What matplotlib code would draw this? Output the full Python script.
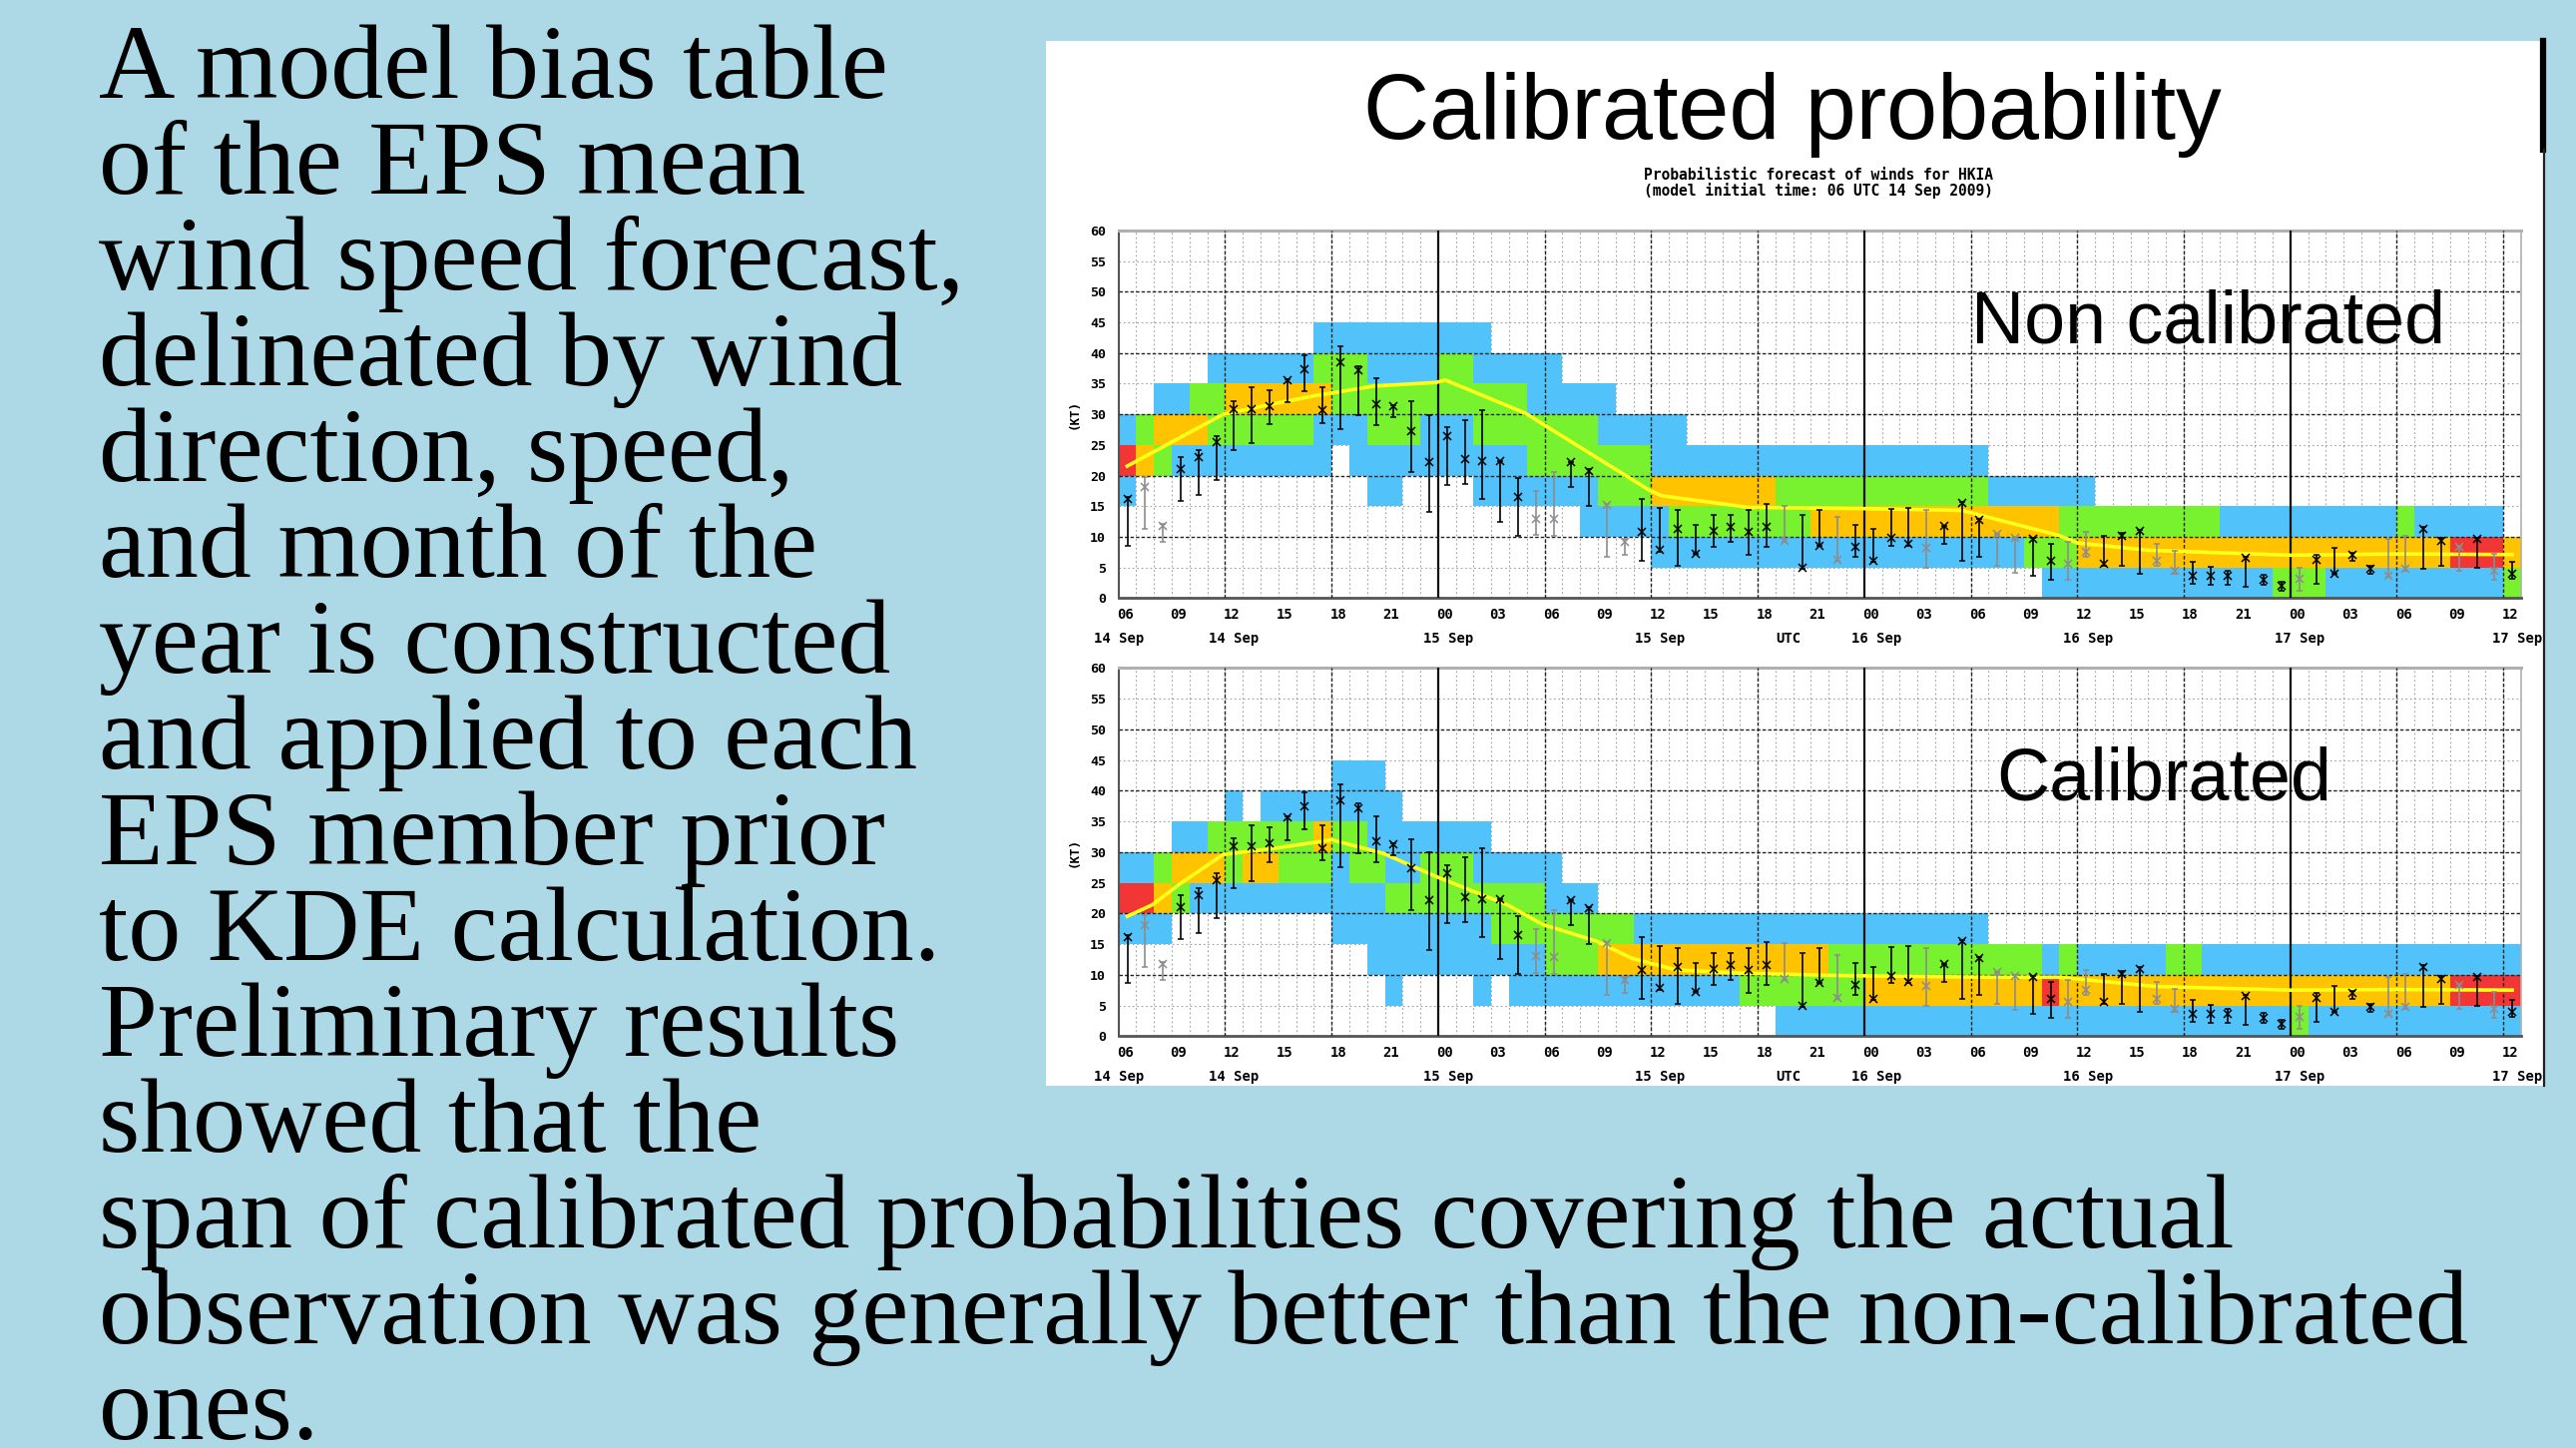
import matplotlib
matplotlib.use("Agg")
import matplotlib.pyplot as plt
import matplotlib.transforms as mtransforms
from matplotlib.colors import ListedColormap
from matplotlib.patches import Rectangle
from matplotlib.lines import Line2D
import numpy as np

W, H, DPI = 2581, 1451, 100
BG = "#ADD9E6"

# ---------------- text content ----------------
BODY_LINES = [
    "A model bias table",
    "of the EPS mean",
    "wind speed forecast,",
    "delineated by wind",
    "direction, speed,",
    "and month of the",
    "year is constructed",
    "and applied to each",
    "EPS member prior",
    "to KDE calculation.",
    "Preliminary results",
    "showed that the",
    "span of calibrated probabilities covering the actual",
    "observation was generally better than the non-calibrated",
    "ones.",
]
TITLE = "Calibrated probability"
SUBTITLE = ["Probabilistic forecast of winds for HKIA",
            "(model initial time: 06 UTC 14 Sep 2009)"]
PANEL_LABELS = ["Non calibrated", "Calibrated"]
Y_LABEL = "(KT)"

# ---------------- axes data ----------------
N_HOURS = 79                       # hourly columns after 06 UTC 14 Sep
HOUR_TICKS = list(range(0, 79, 3))
HOUR_LABELS = ["06", "09", "12", "15", "18", "21", "00", "03", "06", "09",
               "12", "15", "18", "21", "00", "03", "06", "09", "12", "15",
               "18", "21", "00", "03", "06", "09", "12"]
DATE_LABELS = ["14 Sep", "14 Sep", "15 Sep", "15 Sep", "UTC",
               "16 Sep", "16 Sep", "17 Sep", "17 Sep"]
DATE_POS = [0.0, 6.5, 18.6, 30.5, 37.7, 42.7, 54.6, 66.5, 78.8]
KT_TICKS = list(range(0, 61, 5))
DAY_STARTS = [18, 42, 66]                       # 00 UTC
SIX_HOURLY = [6, 12, 24, 30, 36, 48, 54, 60, 72, 78]

# probability cells: per 5-kt bin index -> runs (first hour, last hour, category)
NONCAL_CELLS = {
    0: [(52, 64, 'b'), (65, 67, 'g'), (68, 77, 'b'), (78, 78, 'g')],
    1: [(30, 50, 'b'), (51, 53, 'g'), (54, 74, 'o'), (75, 77, 'r'), (78, 78, 'o')],
    2: [(26, 30, 'b'), (31, 38, 'g'), (39, 52, 'o'), (53, 61, 'g'), (62, 71, 'b'),
        (72, 72, 'g'), (73, 77, 'b')],
    3: [(0, 0, 'b'), (14, 15, 'b'), (20, 26, 'b'), (27, 29, 'g'), (30, 36, 'o'),
        (37, 48, 'g'), (49, 54, 'b')],
    4: [(0, 0, 'r'), (1, 1, 'o'), (2, 2, 'g'), (3, 11, 'b'), (13, 22, 'b'),
        (23, 29, 'g'), (30, 48, 'b')],
    5: [(0, 0, 'b'), (1, 1, 'g'), (2, 4, 'o'), (5, 10, 'g'), (11, 13, 'b'),
        (14, 16, 'g'), (17, 19, 'b'), (20, 26, 'g'), (27, 31, 'b')],
    6: [(2, 3, 'b'), (4, 5, 'g'), (6, 11, 'o'), (12, 22, 'g'), (23, 27, 'b')],
    7: [(5, 10, 'b'), (11, 13, 'g'), (14, 17, 'b'), (18, 19, 'g'), (20, 24, 'b')],
    8: [(11, 20, 'b')],
}
CAL_CELLS = {
    0: [(37, 65, 'b'), (66, 66, 'g'), (67, 78, 'b')],
    1: [(15, 15, 'b'), (20, 20, 'b'), (22, 34, 'b'), (35, 41, 'g'), (42, 51, 'o'),
        (52, 52, 'r'), (53, 74, 'o'), (75, 78, 'r')],
    2: [(14, 23, 'b'), (24, 26, 'g'), (27, 39, 'o'), (40, 51, 'g'), (52, 52, 'b'),
        (53, 53, 'g'), (54, 58, 'b'), (59, 60, 'g'), (61, 78, 'b')],
    3: [(0, 2, 'b'), (12, 20, 'b'), (21, 28, 'g'), (29, 48, 'b')],
    4: [(0, 1, 'r'), (2, 2, 'o'), (3, 3, 'g'), (4, 14, 'b'), (15, 23, 'g'), (24, 26, 'b')],
    5: [(0, 1, 'b'), (2, 2, 'g'), (3, 5, 'o'), (6, 6, 'g'), (7, 8, 'o'), (9, 11, 'g'),
        (12, 12, 'b'), (13, 14, 'g'), (15, 16, 'b'), (17, 19, 'g'), (20, 24, 'b')],
    6: [(3, 4, 'b'), (5, 10, 'g'), (11, 11, 'o'), (12, 13, 'g'), (14, 20, 'b')],
    7: [(6, 6, 'b'), (8, 15, 'b')],
    8: [(12, 14, 'b')],
}

# observed wind (kt): hourly range and mark
OBS_HIGH = [16.5, 19.7, 12.1, 23.0, 24.1, 26.5, 32.2, 34.4, 34.0, 35.8, 39.7, 34.4, 41.1,
            37.9, 35.9, 31.5, 32.1, 29.9, 27.9, 29.1, 30.7, 22.4, 19.6, 17.4, 20.5, 22.2,
            21.0, 15.4, 9.7, 16.2, 14.7, 14.4, 12.0, 13.5, 13.5, 14.4, 15.4, 15.1, 13.5,
            14.4, 13.2, 12.0, 11.3, 14.5, 14.7, 14.4, 11.8, 15.7, 12.9, 10.5, 9.9, 9.8,
            8.9, 9.1, 10.8, 10.1, 10.7, 11.2, 8.9, 7.7, 5.9, 5.1, 4.5, 6.7, 3.8, 2.6,
            4.9, 7.0, 8.2, 7.4, 5.3, 9.6, 10.1, 11.6, 9.8, 8.5, 9.8, 7.2, 5.9]
OBS_LOW = [8.6, 11.3, 9.2, 15.9, 16.8, 19.2, 24.2, 25.3, 28.4, 32.0, 33.7, 28.6, 27.6,
           29.8, 28.3, 29.5, 20.5, 14.0, 18.5, 18.6, 16.2, 12.5, 10.1, 10.3, 10.1, 18.1,
           15.0, 6.7, 7.1, 6.1, 7.5, 5.3, 7.2, 8.3, 9.1, 7.0, 8.3, 9.1, 4.8, 8.6, 6.1,
           6.7, 5.9, 8.6, 8.6, 4.9, 8.9, 6.1, 6.7, 5.3, 4.2, 3.7, 2.9, 2.9, 6.7, 5.3,
           5.2, 4.0, 5.3, 4.0, 2.3, 2.1, 2.1, 1.8, 2.2, 1.25, 1.25, 2.3, 4.0, 6.1, 4.0,
           3.4, 4.5, 4.8, 5.3, 4.5, 4.9, 3.0, 3.2]
OBS_MARK = [16.2, 18.1, 11.8, 21.1, 23.0, 25.4, 30.9, 30.9, 31.4, 35.6, 37.4, 30.7, 38.5,
            37.2, 31.7, 31.3, 27.3, 22.2, 26.5, 22.7, 22.3, 22.4, 16.5, 13.0, 12.9, 22.2,
            20.8, 15.2, 9.2, 10.8, 7.9, 11.3, 7.2, 10.9, 11.6, 10.8, 11.6, 9.4, 4.9, 8.6,
            6.25, 8.3, 6.1, 9.8, 8.9, 8.2, 11.8, 15.5, 12.8, 10.4, 9.8, 9.6, 6.1, 5.6,
            7.5, 5.6, 10.1, 11.0, 6.0, 4.5, 3.7, 3.7, 3.7, 6.5, 2.9, 2.0, 3.2, 6.3, 4.0,
            7.0, 4.7, 3.6, 4.8, 11.3, 9.4, 8.3, 9.7, 4.5, 4.0]
OBS_GRAY = [1, 2, 23, 24, 27, 28, 37, 40, 45, 49, 50, 53, 54, 58, 59, 66, 71, 72, 75, 77]

# EPS mean wind speed (kt)
NONCAL_MEAN_H = [0.4, 5.9, 8.2, 11.0, 14.4, 17.9, 18.4, 22.9, 29.9, 30.6, 35.5, 42.0,
                 47.5, 53.0, 54.0, 58.0, 66.0, 72.0, 78.6]
NONCAL_MEAN_KT = [21.4, 30.0, 31.4, 33.0, 34.6, 35.2, 35.6, 30.2, 17.6, 16.7, 14.8,
                  14.6, 14.3, 10.2, 9.0, 7.8, 7.0, 7.2, 7.1]
CAL_MEAN_H = [0.4, 1.9, 3.5, 5.9, 9.0, 12.0, 14.9, 17.9, 21.9, 23.9, 26.9, 28.9, 31.4,
              34.8, 40.0, 49.0, 53.0, 58.4, 66.0, 72.0, 78.6]
CAL_MEAN_KT = [19.4, 21.4, 24.9, 29.6, 30.7, 32.0, 29.8, 26.0, 21.4, 18.2, 15.5, 12.7,
               10.8, 10.3, 9.9, 9.6, 9.6, 8.1, 7.5, 7.6, 7.5]

# ---------------- styles ----------------
C_BLUE, C_GREEN, C_ORANGE, C_RED = "#52C2FA", "#78F22E", "#FFC300", "#F23535"
CAT = {'b': 1, 'g': 2, 'o': 3, 'r': 4}
CMAP = ListedColormap([C_BLUE, C_GREEN, C_ORANGE, C_RED])
MONO = "DejaVu Sans Mono"


def px_x(x):
    return x / W


def px_y(y):
    return 1 - y / H


def cell_grid(cells):
    g = np.zeros((9, N_HOURS), int)
    for k, runs in cells.items():
        for a, b, c in runs:
            g[k, a:b + 1] = CAT[c]
    return np.ma.masked_equal(g, 0)


fig = plt.figure(figsize=(W / DPI, H / DPI), dpi=DPI, facecolor=BG)

# white picture panel
fig.patches.append(Rectangle((px_x(1048), px_y(1088)), px_x(2550 - 1048), (1088 - 41) / H,
                             transform=fig.transFigure, facecolor="white",
                             edgecolor="none", zorder=-1))
fig.add_artist(Line2D([px_x(2548)] * 2, [px_y(41), px_y(150)], transform=fig.transFigure,
                      color="black", lw=4.5, zorder=2))
fig.add_artist(Line2D([px_x(2549)] * 2, [px_y(150), px_y(1088)], transform=fig.transFigure,
                      color="#222222", lw=1.6, zorder=2))

# title and subtitle
fig.text(px_x(1796), px_y(139), TITLE, ha="center", va="baseline", fontsize=66,
         family="Liberation Sans", color="black")
for i, s in enumerate(SUBTITLE):
    fig.text(px_x(1822), px_y(175 + 16 * i), s, ha="center", va="center", fontsize=10.5,
             family=MONO, weight="bold", color="black")

panels = [
    ([px_x(1120.7), px_y(599.3), (2526 - 1120.7) / W, (599.3 - 231) / H],
     NONCAL_CELLS, NONCAL_MEAN_H, NONCAL_MEAN_KT),
    ([px_x(1120.7), px_y(1038.3), (2526 - 1120.7) / W, (1038.3 - 669.4) / H],
     CAL_CELLS, CAL_MEAN_H, CAL_MEAN_KT),
]

hours = np.arange(N_HOURS)
gray_mask = np.zeros(N_HOURS, bool)
gray_mask[OBS_GRAY] = True
hi = np.array(OBS_HIGH)
lo = np.array(OBS_LOW)
mk = np.array(OBS_MARK)

for rect, cells, mh, mkt in panels:
    ax = fig.add_axes(rect)
    ax.set_facecolor("white")
    ax.set_xlim(0, N_HOURS)
    ax.set_ylim(0, 60)

    # minor grid
    ax.vlines(np.arange(1, N_HOURS), 0, 60, colors="#a0a0a0", lw=0.8,
              linestyles=(0, (1.5, 2.5)), zorder=1)
    ax.hlines([k for k in KT_TICKS if k % 10 == 5], 0, N_HOURS, colors="#a0a0a0", lw=0.8,
              linestyles=(0, (1.5, 2.5)), zorder=1)

    # probability cells
    ax.pcolormesh(np.arange(N_HOURS + 1), np.arange(0, 50, 5), cell_grid(cells),
                  cmap=CMAP, vmin=0.5, vmax=4.5, antialiased=False, zorder=2)

    # major grid
    ax.hlines([10, 20, 30, 40, 50], 0, N_HOURS, colors="#222222", lw=1.0,
              linestyles=(0, (2.5, 1.5)), zorder=3)
    ax.vlines(SIX_HOURLY, 0, 60, colors="#222222", lw=1.0,
              linestyles=(0, (2.5, 1.5)), zorder=3)
    ax.vlines(DAY_STARTS, 0, 60, colors="#111111", lw=1.6, zorder=3)

    # EPS mean
    ax.plot(mh, mkt, color="#FFFF1A", lw=2.6, zorder=4, solid_capstyle="butt")

    # observations
    for sel, col in ((~gray_mask, "black"), (gray_mask, "#8c8c8c")):
        x = hours[sel] + 0.5
        ax.errorbar(x, mk[sel], yerr=[mk[sel] - lo[sel], hi[sel] - mk[sel]], fmt="x",
                    color=col, ecolor=col, elinewidth=1.2, capsize=2.3, capthick=1.2,
                    markersize=5.5, mew=1.1, zorder=5)

    # spines
    for side, c, lw in (("left", "#555555", 1.5), ("bottom", "#555555", 2.0),
                        ("top", "#b0b0b0", 2.2), ("right", "#b0b0b0", 1.2)):
        ax.spines[side].set_color(c)
        ax.spines[side].set_linewidth(lw)

    ax.set_xticks([])
    ax.set_yticks(KT_TICKS)
    ax.set_yticklabels([str(v) for v in KT_TICKS], family=MONO, weight="bold",
                       fontsize=9.5)
    ax.tick_params(axis="y", length=0, pad=9)

    trans = mtransforms.blended_transform_factory(ax.transData, ax.transAxes)
    for h, lab in zip(HOUR_TICKS, HOUR_LABELS):
        ax.text(h + 0.37, -0.0453, lab, transform=trans, ha="center", va="center",
                fontsize=10, family=MONO, weight="bold", clip_on=False)
    for p, lab in zip(DATE_POS, DATE_LABELS):
        ax.text(p, -0.111, lab, transform=trans, ha="center", va="center",
                fontsize=10, family=MONO, weight="bold", clip_on=False)
    ax.text(-0.0318, 0.5, Y_LABEL, transform=ax.transAxes, rotation=90, ha="center",
            va="center", fontsize=9, family=MONO, weight="bold")

# panel labels
fig.text(px_x(1975), px_y(343.3), PANEL_LABELS[0], ha="left", va="baseline",
         fontsize=53, family="Liberation Sans", color="black", zorder=10)
fig.text(px_x(2000.7), px_y(801.7), PANEL_LABELS[1], ha="left", va="baseline",
         fontsize=53, family="Liberation Sans", color="black", zorder=10)

# body text, fitted to the widest line
fig.canvas.draw()
rend = fig.canvas.get_renderer()
probe = fig.text(0, 0, BODY_LINES[13], fontsize=100, family="Liberation Serif")
w100 = probe.get_window_extent(rend).width
probe.remove()
fs = 100 * 2375 / w100
for k, line in enumerate(BODY_LINES):
    fig.text(px_x(99), px_y(97.6 + 96 * k), line, ha="left", va="baseline",
             fontsize=fs, family="Liberation Serif", color="black")

fig.savefig("out.png", dpi=DPI, facecolor=BG)
